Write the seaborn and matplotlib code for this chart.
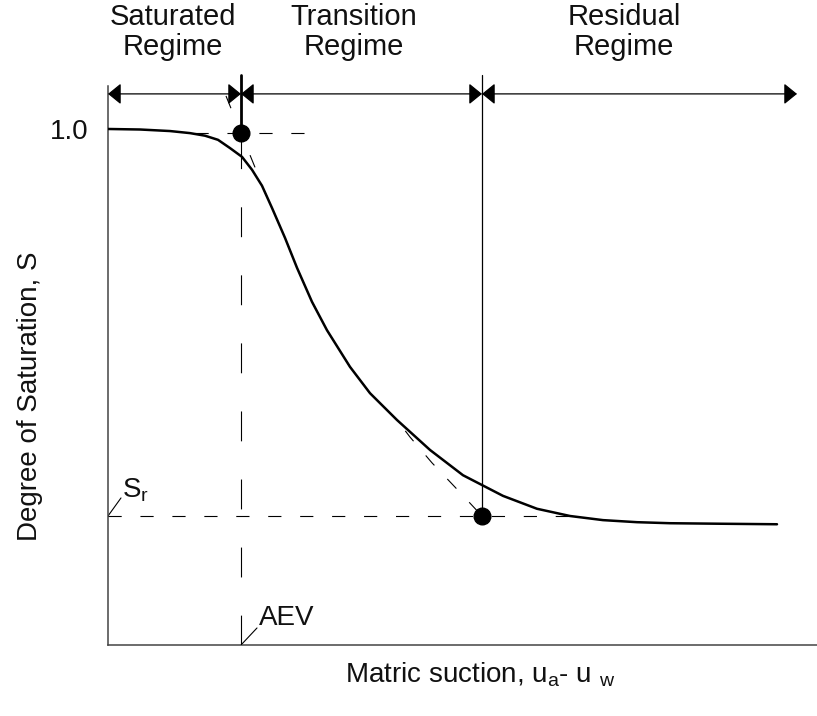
import matplotlib
matplotlib.use("Agg")
import matplotlib.pyplot as plt
import seaborn as sns
import pandas as pd

# Soil-water characteristic curve (degree of saturation vs. matric suction)
suction = [0.00, 0.32, 0.62, 0.82, 0.97, 1.10, 1.22, 1.34, 1.44, 1.54, 1.64,
           1.77, 1.89, 2.04, 2.19, 2.42, 2.62, 2.89, 3.22, 3.55, 3.74, 3.95,
           4.29, 4.62, 4.95, 5.29, 5.62, 6.12, 6.69]
saturation = [1.000, 0.999, 0.996, 0.992, 0.987, 0.979, 0.963, 0.946, 0.921,
              0.890, 0.847, 0.789, 0.731, 0.665, 0.610, 0.539, 0.488, 0.436,
              0.378, 0.329, 0.310, 0.289, 0.264, 0.250, 0.242, 0.238, 0.236,
              0.235, 0.234]

# Construction line joining the air-entry point and the residual point
tangent_x = [1.18, 1.33, 1.48, 1.54, 1.64, 1.77, 1.89, 2.04, 2.19, 2.42,
             2.62, 2.89, 3.02, 3.24, 3.47, 3.74]
tangent_y = [1.064, 0.992, 0.921, 0.890, 0.847, 0.789, 0.731, 0.665, 0.610,
             0.539, 0.488, 0.436, 0.403, 0.353, 0.306, 0.250]

aev_suction = 1.33        # air-entry value
aev_saturation = 0.992
res_suction = 3.74        # residual suction
res_saturation = 0.25     # residual saturation S_r
sat_line_end = 2.07       # end of the S = 1 construction line
res_line_end = 4.72       # end of the S_r construction line

regime_edges = [0.00, 1.33, 3.74, 6.89]
regime_names = ["Saturated\nRegime", "Transition\nRegime", "Residual\nRegime"]
regime_label_x = [0.65, 2.46, 5.16]

sns.set_theme(style="white")
plt.rcParams["font.family"] = ["Liberation Sans", "DejaVu Sans"]
plt.rcParams["mathtext.fontset"] = "custom"
plt.rcParams["mathtext.rm"] = "Liberation Sans"
plt.rcParams["lines.scale_dashes"] = False

FS = 20
FS_HEAD = 21
INK = "#111111"
W, H = 817, 716
fig = plt.figure(figsize=(W / 100, H / 100), dpi=100)
ax = fig.add_axes([108 / W, (H - 645) / H, (W - 108) / W, (645 - 86) / H])
ax.set_xlim(0, 7.09)
ax.set_ylim(0, 1.0833)

curve = pd.DataFrame({"suction": suction, "saturation": saturation})
sns.lineplot(data=curve, x="suction", y="saturation", color="black",
             lw=1.8, ax=ax, zorder=5, sort=False, estimator=None)

short_dash = (0, (9.5, 13.5))
long_dash = (0, (21.5, 27.5))
thin = 0.8

# construction lines
ax.plot(tangent_x, tangent_y, color="black", lw=thin, ls=short_dash,
        clip_on=False, zorder=3)
ax.plot([0.87, sat_line_end], [aev_saturation, aev_saturation],
        color="black", lw=thin, ls=short_dash, zorder=3)
ax.plot([0, res_line_end], [res_saturation, res_saturation],
        color="black", lw=thin, ls=short_dash, zorder=3)
ax.plot([aev_suction, aev_suction], [0, aev_saturation],
        color="black", lw=thin, ls=long_dash, zorder=3)

# regime boundaries
y_top = 1.105
y_arrow = 1.068
ax.plot([aev_suction, aev_suction], [aev_saturation, y_top], color="black",
        lw=2.0, clip_on=False, zorder=4)
ax.plot([res_suction, res_suction], [res_saturation, y_top], color="black",
        lw=0.9, clip_on=False, zorder=4)

for a, b in zip(regime_edges[:-1], regime_edges[1:]):
    ax.annotate("", xy=(b, y_arrow), xytext=(a, y_arrow),
                arrowprops=dict(arrowstyle="<|-|>,head_length=0.8,head_width=0.65",
                                mutation_scale=10, lw=0.9, color="black",
                                shrinkA=0, shrinkB=0),
                annotation_clip=False)

# regime captions (baseline of the second line)
for xc, name in zip(regime_label_x, regime_names):
    ax.text(xc, 1.143, name, ha="center", va="baseline", fontsize=FS_HEAD,
            linespacing=1.1, color=INK, clip_on=False)

# key points
ax.plot([aev_suction, res_suction], [aev_saturation, res_saturation], "o",
        color="black", ms=12, zorder=6, clip_on=False)

# point labels with leaders
ax.plot([0, 0.13], [res_saturation, 0.285], color="black", lw=thin)
ax.text(0.14, 0.287, r"S$_\mathregular{r}$", fontsize=FS, va="baseline",
        color=INK)
ax.plot([aev_suction, 1.49], [0, 0.033], color="black", lw=thin)
ax.text(1.51, 0.039, "AEV", fontsize=FS, va="baseline", color=INK)

# axes styling
ax.set_xticks([])
ax.set_yticks([1.0])
ax.set_yticklabels(["1.0"])
ax.tick_params(axis="y", length=0, pad=14, labelsize=FS, colors=INK)
ax.set_xlabel("")
ax.set_ylabel("")
for side in ("top", "right"):
    ax.spines[side].set_visible(False)
for side in ("left", "bottom"):
    ax.spines[side].set_color("#444444")
    ax.spines[side].set_linewidth(1.1)

fig.text(480 / W, 1 - 682 / H,
         r"Matric suction, u$_\mathregular{a}$- u $_\mathregular{w}$",
         ha="center", va="baseline", fontsize=FS, color=INK)
fig.text(30 / W, 1 - 396 / H, "Degree of Saturation, S", rotation=90,
         ha="center", va="center", fontsize=FS, color=INK)

fig.savefig("out.png", dpi=100, facecolor="white")
